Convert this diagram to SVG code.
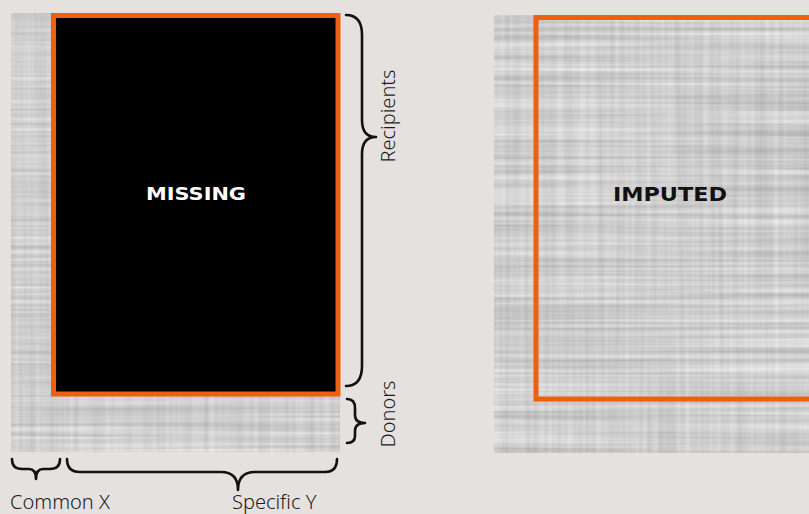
<svg xmlns="http://www.w3.org/2000/svg" width="809" height="514" viewBox="0 0 809 514">
<style>
.brace{fill:none;stroke:#111;stroke-width:2.6;stroke-linecap:round;stroke-linejoin:round}
.lbl{font-family:"Noto Sans","Open Sans","Liberation Sans",sans-serif;font-weight:300;font-size:20px;fill:#1c1c1c}
.hand{font-family:"DejaVu Sans","Liberation Sans",sans-serif;font-weight:bold;text-anchor:middle}
.frame{stroke:#EE5F0F;stroke-width:5}
</style>
<defs>
<filter id="tex" x="0" y="0" width="1" height="1" color-interpolation-filters="sRGB">
<feTurbulence type="fractalNoise" baseFrequency="0.003 0.22" numOctaves="2" seed="4" result="t1"/>
<feColorMatrix in="t1" type="matrix" values="1 0 0 0 0  1 0 0 0 0  1 0 0 0 0  0 0 0 0 1" result="g1"/>
<feTurbulence type="fractalNoise" baseFrequency="0.2 0.003" numOctaves="2" seed="11" result="t2"/>
<feColorMatrix in="t2" type="matrix" values="1 0 0 0 0  1 0 0 0 0  1 0 0 0 0  0 0 0 0 1" result="g2"/>
<feComposite in="g1" in2="g2" operator="arithmetic" k1="0" k2="0.26" k3="0.12" k4="0.59"/>
</filter>
</defs>
<rect width="809" height="514" fill="#E5E1DE"/>

<g id="missing-matrix">
<rect x="11" y="13" width="329" height="439" fill="#c8c8c8" filter="url(#tex)"/>
<rect class="frame" x="53.5" y="15.5" width="284.5" height="378.5" fill="#000"/>
<text class="hand" x="196" y="200" font-size="18" textLength="100" lengthAdjust="spacingAndGlyphs" fill="#fff">MISSING</text>
</g>

<g id="imputed-matrix">
<rect x="494" y="15" width="315" height="438" fill="#c8c8c8" filter="url(#tex)"/>
<rect class="frame" x="536" y="17.5" width="300" height="381.5" fill="none"/>
<text class="hand" x="670" y="201" font-size="20" textLength="114" lengthAdjust="spacingAndGlyphs" fill="#111">IMPUTED</text>
</g>

<g id="connectors">
<path class="brace" d="M346,15 Q362,15 362,35 L362,120 Q362,137 376,137 Q362,137 362,154 L362,366 Q362,386 346,386"/>
<path class="brace" d="M347,399 Q355,399 355,408 L355,415 Q355,423 365,423 Q355,423 355,431 L355,436 Q355,443 347,443"/>
<path class="brace" d="M12,459 Q12,469 22,469 L29,469 Q36,469 36,479 Q36,469 43,469 L50,469 Q60,469 60,459"/>
<path class="brace" d="M67,459 Q67,472 80,472 L221,472 Q238,472 238,490 Q238,472 255,472 L325,472 Q337,472 337,459"/>
</g>

<g id="labels">
<text class="lbl" transform="translate(395,116) rotate(-90)" text-anchor="middle">Recipients</text>
<text class="lbl" transform="translate(395,414) rotate(-90)" text-anchor="middle">Donors</text>
<text class="lbl" x="10" y="509">Common X</text>
<text class="lbl" x="232" y="509">Specific Y</text>
</g>
</svg>
